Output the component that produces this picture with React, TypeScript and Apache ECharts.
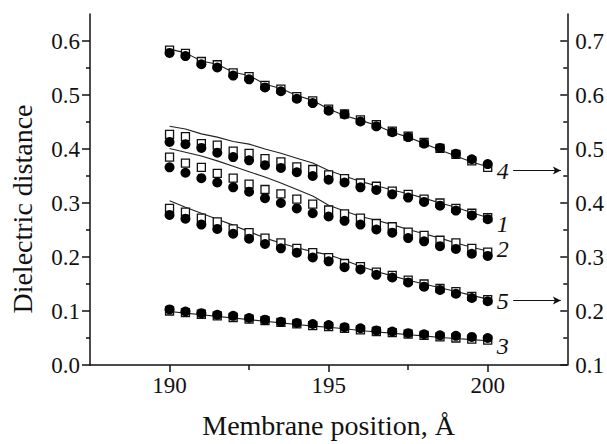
import React, { useEffect, useRef } from "react";
import * as echarts from "echarts";

// Membrane position (Å)
const positions = [190, 190.5, 191, 191.5, 192, 192.5, 193, 193.5, 194, 194.5, 195, 195.5, 196, 196.5, 197, 197.5, 198, 198.5, 199, 199.5, 200];

// Curve 4 (right axis)
const c4Circles = [0.678, 0.672, 0.657, 0.651, 0.636, 0.629, 0.614, 0.607, 0.593, 0.585, 0.571, 0.564, 0.551, 0.542, 0.531, 0.522, 0.510, 0.502, 0.491, 0.481, 0.472];
const c4Squares = [0.683, 0.677, 0.662, 0.656, 0.641, 0.634, 0.618, 0.611, 0.597, 0.589, 0.574, 0.565, 0.554, 0.545, 0.533, 0.524, 0.512, 0.501, 0.490, 0.478, 0.466];
const c4Line = [0.685, 0.678, 0.663, 0.657, 0.642, 0.636, 0.620, 0.612, 0.599, 0.590, 0.574, 0.562, 0.553, 0.544, 0.531, 0.522, 0.510, 0.498, 0.487, 0.476, 0.467];

// Curve 1 (left axis)
const c1Circles = [0.413, 0.409, 0.402, 0.393, 0.385, 0.379, 0.370, 0.365, 0.357, 0.350, 0.343, 0.338, 0.329, 0.324, 0.316, 0.310, 0.302, 0.295, 0.286, 0.277, 0.270];
const c1Squares = [0.427, 0.423, 0.410, 0.407, 0.396, 0.392, 0.382, 0.376, 0.367, 0.362, 0.352, 0.345, 0.337, 0.331, 0.322, 0.316, 0.307, 0.300, 0.290, 0.281, 0.273];
const c1Line = [0.442, 0.437, 0.428, 0.422, 0.414, 0.409, 0.400, 0.392, 0.383, 0.374, 0.360, 0.350, 0.340, 0.332, 0.324, 0.317, 0.309, 0.300, 0.292, 0.282, 0.273];

// Curve 2 (left axis)
const c2Circles = [0.366, 0.356, 0.346, 0.338, 0.329, 0.321, 0.309, 0.300, 0.290, 0.281, 0.275, 0.267, 0.260, 0.251, 0.245, 0.235, 0.229, 0.220, 0.215, 0.206, 0.202];
const c2Squares = [0.385, 0.374, 0.366, 0.355, 0.346, 0.335, 0.325, 0.317, 0.307, 0.298, 0.287, 0.280, 0.272, 0.262, 0.256, 0.246, 0.240, 0.231, 0.226, 0.216, 0.209];
const c2Line = [0.401, 0.394, 0.387, 0.378, 0.368, 0.358, 0.348, 0.337, 0.325, 0.313, 0.296, 0.285, 0.275, 0.268, 0.260, 0.251, 0.243, 0.235, 0.226, 0.218, 0.211];

// Curve 5 (right axis)
const c5Circles = [0.378, 0.371, 0.360, 0.352, 0.343, 0.334, 0.324, 0.316, 0.308, 0.299, 0.292, 0.281, 0.277, 0.267, 0.262, 0.253, 0.245, 0.239, 0.232, 0.224, 0.218];
const c5Squares = [0.390, 0.383, 0.372, 0.365, 0.352, 0.345, 0.335, 0.326, 0.316, 0.308, 0.299, 0.288, 0.282, 0.272, 0.266, 0.257, 0.250, 0.242, 0.236, 0.227, 0.221];
const c5Line = [0.404, 0.392, 0.381, 0.370, 0.359, 0.347, 0.335, 0.326, 0.317, 0.310, 0.304, 0.294, 0.283, 0.273, 0.265, 0.257, 0.250, 0.243, 0.236, 0.229, 0.222];

// Curve 3 (left axis)
const c3Circles = [0.103, 0.099, 0.096, 0.093, 0.091, 0.087, 0.084, 0.080, 0.078, 0.076, 0.074, 0.070, 0.068, 0.064, 0.062, 0.059, 0.057, 0.055, 0.054, 0.052, 0.050];
const c3Squares = [0.100, 0.097, 0.094, 0.091, 0.088, 0.085, 0.082, 0.079, 0.076, 0.073, 0.071, 0.068, 0.065, 0.062, 0.060, 0.057, 0.055, 0.052, 0.050, 0.048, 0.046];
const c3Line = [0.099, 0.096, 0.093, 0.090, 0.087, 0.084, 0.081, 0.078, 0.075, 0.072, 0.070, 0.067, 0.064, 0.061, 0.059, 0.056, 0.054, 0.051, 0.049, 0.047, 0.045];

// Axis ticks
const xMajorTicks = [190, 195, 200];
const xMinorTicks = [192.5, 197.5];
const leftMajorTicks = [0, 0.1, 0.2, 0.3, 0.4, 0.5, 0.6];
const leftMinorTicks = [0.05, 0.15, 0.25, 0.35, 0.45, 0.55];
const rightMajorTicks = [0.1, 0.2, 0.3, 0.4, 0.5, 0.6, 0.7];
const rightMinorTicks = [0.15, 0.25, 0.35, 0.45, 0.55, 0.65];

// Arrows pointing to the right axis (right-axis values)
const arrowX = [200.8, 202.3];
const arrow4Y = 0.46;
const arrow5Y = 0.2195;

const FONT = "Liberation Serif";
const INK = "#111";

const pairs = (arr: number[]) => positions.map((x, i) => [x, arr[i]]);
const isMajor = (v: number, list: number[]) => list.some((t) => Math.abs(t - v) < 1e-6);

export default function App() {
  const ref = useRef<HTMLDivElement>(null);

  useEffect(() => {
    if (!ref.current) return;
    const chart = echarts.init(ref.current, undefined, { renderer: "svg" });

    const lineSeries = (data: number[], yAxisIndex: number, label: string, dy: number, arrowY?: number) => ({
      type: "line",
      data: pairs(data),
      yAxisIndex,
      symbol: "none",
      z: 2,
      lineStyle: { color: "#222", width: 1.1 },
      endLabel: {
        show: true,
        formatter: label,
        fontFamily: FONT,
        fontStyle: "italic",
        fontSize: 24,
        color: INK,
        distance: 9,
        offset: [0, dy],
      },
      markLine: arrowY === undefined ? undefined : {
        silent: true,
        symbol: ["none", "arrow"],
        symbolSize: [6, 8],
        label: { show: false },
        lineStyle: { color: INK, width: 1, type: "solid" },
        data: [[{ coord: [arrowX[0], arrowY] }, { coord: [arrowX[1], arrowY] }]],
      },
    });
    const squareSeries = (data: number[], yAxisIndex: number) => ({
      type: "scatter",
      data: pairs(data),
      yAxisIndex,
      symbol: "rect",
      symbolSize: 8,
      z: 3,
      itemStyle: { color: "#fff", borderColor: INK, borderWidth: 1.3, opacity: 1 },
    });
    const circleSeries = (data: number[], yAxisIndex: number) => ({
      type: "scatter",
      data: pairs(data),
      yAxisIndex,
      symbol: "circle",
      symbolSize: 10,
      z: 4,
      itemStyle: { color: "#000", opacity: 1 },
    });

    const tickText = { fontFamily: FONT, fontSize: 23, color: INK };
    const axisLabelStyle = { ...tickText, rich: { t: { ...tickText } } };

    chart.setOption({
      animation: false,
      backgroundColor: "#fff",
      textStyle: { fontFamily: FONT, color: INK, fontSize: 23 },
      grid: { left: 90, right: 38, top: 14, bottom: 76 },
      xAxis: [
        {
          type: "value",
          min: 187.5,
          max: 202.5,
          interval: 2.5,
          splitLine: { show: false },
          axisLine: { onZero: false, lineStyle: { color: INK, width: 1.5 } },
          axisTick: { customValues: xMajorTicks, length: 7, lineStyle: { color: INK, width: 1.5 } },
          axisLabel: {
            ...axisLabelStyle,
            margin: 9,
            formatter: (v: number) => (isMajor(v, xMajorTicks) ? `{t|${Math.round(v)}}` : ""),
          },
          name: "Membrane position, Å",
          nameLocation: "middle",
          nameGap: 46,
          nameTextStyle: { fontFamily: FONT, fontSize: 28, color: INK },
        },
        {
          type: "value",
          position: "bottom",
          min: 187.5,
          max: 202.5,
          splitLine: { show: false },
          axisLine: { show: false, onZero: false },
          axisTick: { customValues: xMinorTicks, length: 5, lineStyle: { color: INK, width: 1.5 } },
          axisLabel: { show: false },
        },
      ],
      yAxis: [
        {
          type: "value",
          position: "left",
          min: 0,
          max: 0.65,
          interval: 0.1,
          splitLine: { show: false },
          axisLine: { show: true, onZero: false, lineStyle: { color: INK, width: 1.5 } },
          axisTick: { show: true, customValues: leftMajorTicks, length: 8, lineStyle: { color: INK, width: 1.5 } },
          axisLabel: {
            ...axisLabelStyle,
            margin: 10,
            formatter: (v: number) => (isMajor(v, leftMajorTicks) ? `{t|${v.toFixed(1)}}` : ""),
          },
        },
        {
          type: "value",
          position: "right",
          min: 0.1,
          max: 0.75,
          interval: 0.1,
          splitLine: { show: false },
          axisLine: { show: true, onZero: false, lineStyle: { color: INK, width: 1.5 } },
          axisTick: { show: true, inside: true, customValues: rightMajorTicks, length: 7, lineStyle: { color: INK, width: 1.5 } },
          axisLabel: {
            ...axisLabelStyle,
            margin: 8,
            formatter: (v: number) => (isMajor(v, rightMajorTicks) ? `{t|${v.toFixed(1)}}` : ""),
          },
        },
        {
          type: "value",
          position: "left",
          min: 0,
          max: 0.65,
          splitLine: { show: false },
          axisLine: { show: false, onZero: false },
          axisTick: { show: true, customValues: leftMinorTicks, length: 4, lineStyle: { color: INK, width: 1.5 } },
          axisLabel: { show: false },
        },
        {
          type: "value",
          position: "right",
          min: 0.1,
          max: 0.75,
          splitLine: { show: false },
          axisLine: { show: false, onZero: false },
          axisTick: { show: true, inside: true, customValues: rightMinorTicks, length: 4, lineStyle: { color: INK, width: 1.5 } },
          axisLabel: { show: false },
        },
      ],
      graphic: [
        {
          type: "text",
          x: 22,
          y: 209,
          rotation: Math.PI / 2,
          style: {
            text: "Dielectric distance",
            fontFamily: FONT,
            fontSize: 28,
            fill: INK,
            align: "center",
            verticalAlign: "middle",
          },
        },
      ],
      series: [
        lineSeries(c4Line, 1, "4", 4, arrow4Y),
        squareSeries(c4Squares, 1),
        circleSeries(c4Circles, 1),
        lineSeries(c1Line, 0, "1", 6),
        squareSeries(c1Squares, 0),
        circleSeries(c1Circles, 0),
        lineSeries(c2Line, 0, "2", -2),
        squareSeries(c2Squares, 0),
        circleSeries(c2Circles, 0),
        lineSeries(c5Line, 1, "5", 2, arrow5Y),
        squareSeries(c5Squares, 1),
        circleSeries(c5Circles, 1),
        lineSeries(c3Line, 0, "3", 5),
        squareSeries(c3Squares, 0),
        circleSeries(c3Circles, 0),
      ],
    });

    return () => chart.dispose();
  }, []);

  return (
    <div
      ref={ref}
      style={{ position: "fixed", left: 0, top: 0, width: 607, height: 444, background: "#fff" }}
    />
  );
}
